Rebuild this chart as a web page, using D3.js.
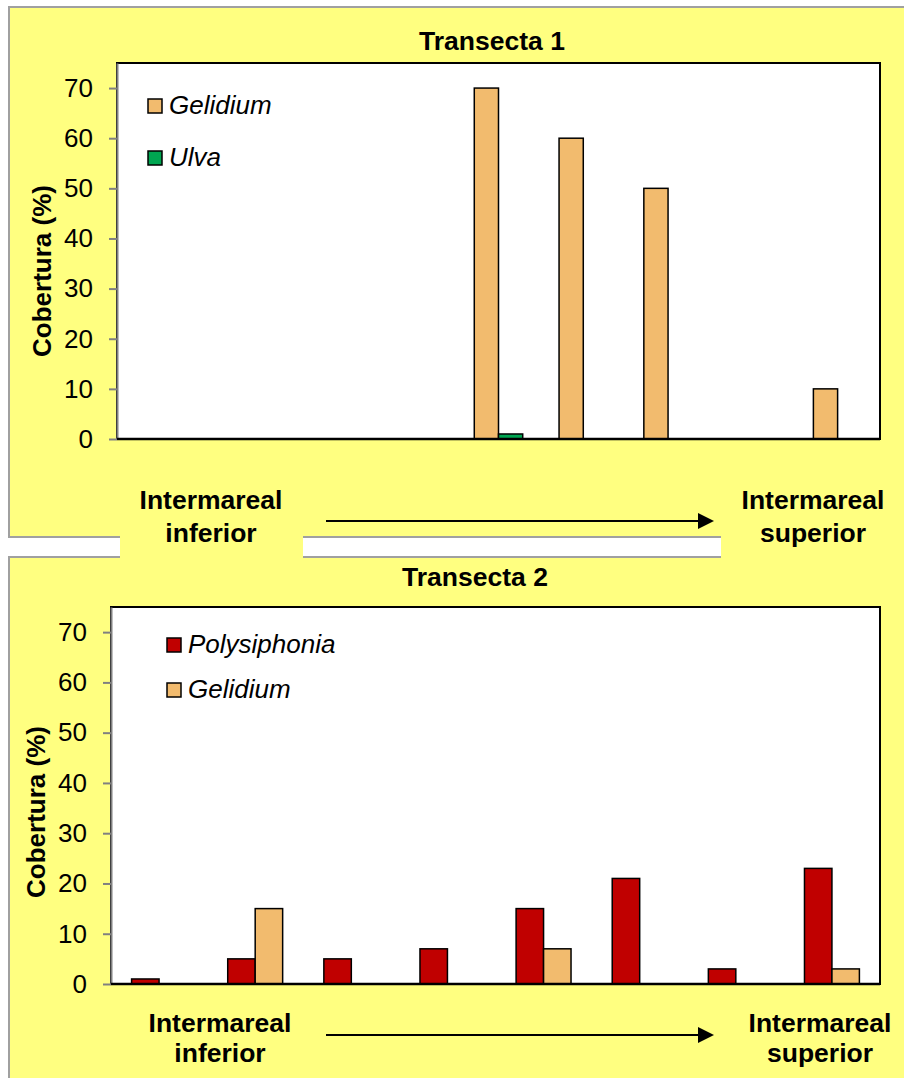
<!DOCTYPE html>
<html>
<head>
<meta charset="utf-8">
<script src="https://cdn.jsdelivr.net/npm/d3@7"></script>
<style>
  html, body { margin: 0; padding: 0; background: #ffffff; }
  svg { display: block; }
  text { font-family: "Liberation Sans", Arial, sans-serif; fill: #000; }
</style>
</head>
<body>
<div id="chart"></div>
<script>
// ---- Data ----
const t1Categories = ["1","2","3","4","5","6","7","8","9"];
const t1Series = ["Gelidium","Ulva"];
const t1Gelidium = [0,0,0,0,70,60,50,0,10];
const t1Ulva     = [0,0,0,0,1,0,0,0,0];

const t2Categories = ["1","2","3","4","5","6","7","8"];
const t2Series = ["Polysiphonia","Gelidium"];
const t2Polysiphonia = [1,5,5,7,15,21,3,23];
const t2Gelidium     = [0,15,0,0,7,0,0,3];

const yTicks = [0,10,20,30,40,50,60,70];
const yMax = 75;
const titles = ["Transecta 1","Transecta 2"];
const yTitle = "Cobertura (%)";
const leftLabel = ["Intermareal","inferior"];
const rightLabel = ["Intermareal","superior"];

const colors = {Gelidium:"#F2BB6E", Ulva:"#00A651", Polysiphonia:"#C00000"};
const yellow = "#FFFF80";
const panelStroke = "#A0A0A0";

const W = 904, H = 1078;
const svg = d3.select("#chart").append("svg").attr("width", W).attr("height", H);
svg.append("rect").attr("width", W).attr("height", H).attr("fill", "#fff");

// panels
svg.append("rect").attr("x",9).attr("y",7).attr("width",910).attr("height",530)
  .attr("fill",yellow).attr("stroke",panelStroke).attr("stroke-width",2);
svg.append("rect").attr("x",9).attr("y",557).attr("width",910).attr("height",540)
  .attr("fill",yellow).attr("stroke",panelStroke).attr("stroke-width",2);
// label boxes overlapping the gap
svg.append("rect").attr("x",120).attr("y",470).attr("width",183).attr("height",89).attr("fill",yellow);
svg.append("rect").attr("x",721).attr("y",470).attr("width",200).attr("height",89).attr("fill",yellow);

function drawPanel(cfg) {
  const g = svg.append("g");
  const x = d3.scaleBand().domain(cfg.categories).range([cfg.left, cfg.right]).padding(0);
  const xs = d3.scaleBand().domain(cfg.series).range([0, x.bandwidth()]).paddingInner(0).paddingOuter(0.75);
  const y = d3.scaleLinear().domain([0, yMax]).range([cfg.bottom, cfg.top]);

  // plot area
  g.append("rect").attr("x",cfg.left).attr("y",cfg.top)
    .attr("width",cfg.right-cfg.left).attr("height",cfg.bottom-cfg.top)
    .attr("fill","#fff").attr("stroke","#000").attr("stroke-width",2);

  // bars
  const rows = [];
  cfg.categories.forEach((c,i) => {
    cfg.series.forEach(s => {
      const v = cfg.values[s][i];
      if (v > 0) rows.push({c, s, v});
    });
  });
  g.selectAll("rect.bar").data(rows).join("rect").attr("class","bar")
    .attr("x", d => x(d.c) + xs(d.s))
    .attr("y", d => y(d.v))
    .attr("width", xs.bandwidth())
    .attr("height", d => y(0) - y(d.v))
    .attr("fill", d => colors[d.s])
    .attr("stroke","#000").attr("stroke-width",1.5);

  // y axis
  const ax = g.append("g").attr("transform",`translate(${cfg.left},0)`)
    .call(d3.axisLeft(y).tickValues(yTicks).tickSize(8).tickPadding(16).tickSizeOuter(0));
  ax.select(".domain").attr("stroke","#808080").attr("stroke-width",2);
  ax.selectAll(".tick line").attr("stroke","#808080").attr("stroke-width",2);
  ax.selectAll(".tick text").attr("font-size",26).attr("font-family","Liberation Sans, Arial, sans-serif").attr("fill","#000");

  // baseline
  g.append("line").attr("x1",cfg.left).attr("x2",cfg.right).attr("y1",y(0)).attr("y2",y(0))
    .attr("stroke","#000").attr("stroke-width",2.5);

  // title
  g.append("text").attr("x",cfg.titleX).attr("y",cfg.titleY).attr("text-anchor","middle")
    .attr("font-size",26.5).attr("font-weight","bold").text(cfg.title);

  // y title
  g.append("text").attr("transform",`translate(${cfg.yTitleX},${cfg.yTitleY}) rotate(-90)`)
    .attr("text-anchor","middle").attr("font-size",26).attr("font-weight","bold").text(yTitle);

  // legend
  cfg.series.forEach((s,i) => {
    const ly = cfg.legendY + i*cfg.legendStep;
    g.append("rect").attr("x",cfg.legendX).attr("y",ly-15).attr("width",14).attr("height",14)
      .attr("fill",colors[s]).attr("stroke","#000").attr("stroke-width",1.5);
    g.append("text").attr("x",cfg.legendX+21).attr("y",ly).attr("font-size",26)
      .attr("font-style","italic").text(s);
  });

  // labels
  [[leftLabel, cfg.leftLabelX],[rightLabel, cfg.rightLabelX]].forEach(([lbl, lx]) => {
    lbl.forEach((t,i) => {
      g.append("text").attr("x",lx).attr("y",cfg.labelY + i*cfg.labelStep).attr("text-anchor","middle")
        .attr("font-size",26.5).attr("font-weight","bold").text(t);
    });
  });

  // arrow
  g.append("line").attr("x1",326).attr("x2",700).attr("y1",cfg.arrowY).attr("y2",cfg.arrowY)
    .attr("stroke","#000").attr("stroke-width",2);
  g.append("path").attr("d",`M698,${cfg.arrowY-8} L714,${cfg.arrowY} L698,${cfg.arrowY+8} Z`).attr("fill","#000");
}

drawPanel({
  categories: t1Categories, series: t1Series,
  values: {Gelidium: t1Gelidium, Ulva: t1Ulva},
  left:117, right:880, top:63, bottom:439,
  title: titles[0], titleX:492, titleY:50,
  yTitleX:51, yTitleY:271,
  legendX:148, legendY:114, legendStep:52,
  leftLabelX:211, rightLabelX:813, labelY:509, labelStep:33,
  arrowY:521
});

drawPanel({
  categories: t2Categories, series: t2Series,
  values: {Polysiphonia: t2Polysiphonia, Gelidium: t2Gelidium},
  left:111, right:880, top:607, bottom:984,
  title: titles[1], titleX:475, titleY:586,
  yTitleX:45, yTitleY:812,
  legendX:167, legendY:653, legendStep:45,
  leftLabelX:220, rightLabelX:820, labelY:1032, labelStep:30,
  arrowY:1035
});
</script>
</body>
</html>
